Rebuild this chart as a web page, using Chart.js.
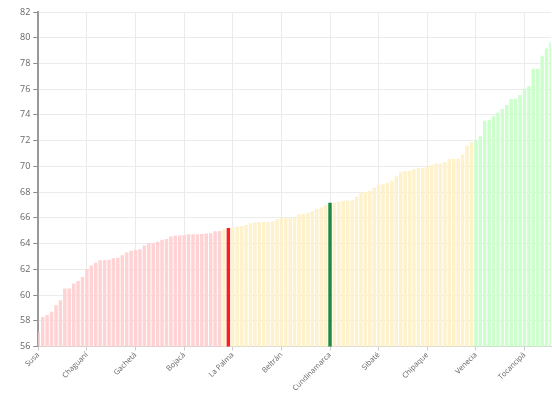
<!DOCTYPE html>
<html>
<head>
<meta charset="utf-8">
<script src="https://cdn.jsdelivr.net/npm/chart.js@4.4.0/dist/chart.umd.min.js"></script>
<style>
	html, body { margin: 0; padding: 0; background: #fff; }
</style>
</head>
<body>
<canvas id="myChart" width="552" height="394"></canvas>
<script>
// municipios ordenados por valor (solo se ve 1 de cada 11 etiquetas)
var municipios = [
	"Susa", "Agua de Dios", "Albán", "Anapoima", "Anolaima", "Apulo", "Arbeláez", "Bituima", "Cabrera", "Cachipay", "Cajicá",
	"Chaguaní", "Caparrapí", "Cáqueza", "Carmen de Carupa", "Chía", "Choachí", "Chocontá", "Cogua", "Cota", "Cucunubá", "El Colegio",
	"Gachetá", "El Peñón", "El Rosal", "Facatativá", "Fómeque", "Fosca", "Funza", "Fúquene", "Fusagasugá", "Gachalá", "Gachancipá",
	"Bojacá", "Gama", "Girardot", "Granada", "Guachetá", "Guaduas", "Guasca", "Guataquí", "Guatavita", "Guayabal de Síquima", "Guayabetal",
	"La Palma", "Gutiérrez", "Jerusalén", "Junín", "La Calera", "La Mesa", "La Peña", "La Vega", "Lenguazaque", "Machetá", "Madrid",
	"Beltrán", "Manta", "Medina", "Mosquera", "Nariño", "Nemocón", "Nilo", "Nimaima", "Nocaima", "Pacho", "Paime",
	"Cundinamarca", "Pandi", "Paratebueno", "Pasca", "Puerto Salgar", "Pulí", "Quebradanegra", "Quetame", "Quipile", "Ricaurte", "San Antonio del Tequendama",
	"Sibaté", "San Bernardo", "San Cayetano", "San Francisco", "San Juan de Rioseco", "Sasaima", "Sesquilé", "Silvania", "Simijaca", "Soacha", "Sopó",
	"Chipaque", "Subachoque", "Suesca", "Supatá", "Sutatausa", "Tabio", "Tausa", "Tena", "Tenjo", "Tibacuy", "Tibirita",
	"Venecia", "Tocaima", "Topaipí", "Ubalá", "Ubaque", "Ubaté", "Une", "Útica", "Vergara", "Vianí", "Villagómez",
	"Tocancipá", "Villapinzón", "Villeta", "Viotá", "Yacopí", "Zipacón", "Zipaquirá"
];

var valores = [
	57.1, 58.3, 58.45, 58.7, 59.2, 59.6, 60.5, 60.5, 60.9, 61.1, 61.4,
	62.0, 62.3, 62.5, 62.7, 62.7, 62.75, 62.85, 62.9, 63.1, 63.3, 63.45,
	63.5, 63.55, 63.85, 64.05, 64.05, 64.15, 64.3, 64.35, 64.55, 64.6, 64.62,
	64.67, 64.72, 64.72, 64.72, 64.75, 64.78, 64.8, 64.95, 64.98, 65.1, 65.22,
	65.26, 65.3, 65.36, 65.45, 65.58, 65.66, 65.68, 65.68, 65.7, 65.74, 65.87,
	66.0, 66.0, 66.0, 66.03, 66.28, 66.3, 66.4, 66.52, 66.7, 66.8, 67.0,
	67.18, 67.2, 67.25, 67.3, 67.35, 67.35, 67.66, 67.98, 68.03, 68.11, 68.34,
	68.57, 68.65, 68.73, 68.89, 69.23, 69.54, 69.62, 69.67, 69.77, 69.88, 69.88,
	69.95, 70.11, 70.22, 70.22, 70.33, 70.55, 70.6, 70.6, 70.93, 71.6, 71.87,
	72.06, 72.35, 73.55, 73.62, 73.9, 74.17, 74.47, 74.77, 75.24, 75.24, 75.55,
	76.03, 76.25, 77.58, 77.58, 78.6, 79.16, 79.64
];

var resaltado = "Guayabetal";      // barra roja
var departamento = "Cundinamarca"; // barra verde oscura
var limites = [65, 72];

var colores = valores.map(function(v, i) {
	if (municipios[i] == resaltado) return "#ff1c1c";
	if (municipios[i] == departamento) return "#1f8a3f";
	if (v < limites[0]) return "#ffd2d4";
	if (v < limites[1]) return "#fdf2cb";
	return "#ccffcc";
});

Chart.defaults.font.family = "'Open Sans', sans-serif";
Chart.defaults.font.size = 9;
Chart.defaults.color = "#666";

var ctx = document.getElementById("myChart").getContext("2d");
var myChart = new Chart(ctx, {
	type: "bar",
	data: {
		labels: municipios,
		datasets: [{
			data: valores,
			backgroundColor: colores,
			borderWidth: 0,
			barPercentage: 1,
			categoryPercentage: 0.78
		}]
	},
	options: {
		responsive: false,
		animation: false,
		devicePixelRatio: 1,
		layout: { padding: { left: 17, right: 1, top: 12, bottom: 1 } },
		plugins: {
			legend: { display: false },
			tooltip: { enabled: false }
		},
		scales: {
			x: {
				offset: false,
				grid: { offset: false, color: "#ebebeb", tickLength: 4, tickColor: "#ccc" },
				border: { color: "#d0d0d0", width: 1 },
				ticks: { autoSkip: true, maxTicksLimit: 11, minRotation: 45, maxRotation: 45, padding: 0, font: { size: 7.5 } }
			},
			y: {
				min: 56,
				max: 82,
				ticks: { stepSize: 2, padding: 3 },
				grid: { color: "#ebebeb", tickLength: 5, tickColor: "#888" },
				border: { color: "#999", width: 2 }
			}
		}
	}
});
</script>
</body>
</html>
